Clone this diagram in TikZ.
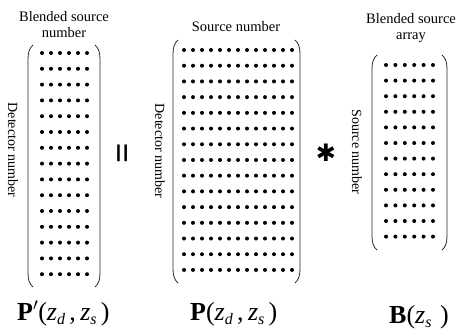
\documentclass[tikz,border=0pt]{standalone}
\usepackage{fontspec}
\setmainfont{Liberation Serif}
\newfontfamily\djv{DejaVu Sans}
\newcommand{\sbx}[1]{\raisebox{-0.4ex}{\fontsize{16}{16}\selectfont\textit{#1}}}
\begin{document}
\begin{tikzpicture}[x=1pt,y=-1pt,
  lbl/.style={font=\fontsize{14.5}{16}\selectfont, align=center, inner sep=0pt},
  vlbl/.style={font=\fontsize{14}{16}\selectfont, rotate=-90, inner sep=0pt},
  frm/.style={font=\fontsize{26}{30}\selectfont, inner sep=0pt, anchor=base west},
  paren/.style={line width=0.8pt, black!85},
  dotc/.style={fill=black}]
\useasboundingbox (0,0) rectangle (457,332);
% ---- Matrix 1
\draw[paren] (33,45) .. controls (29.5,48) and (28,52) .. (28,59) -- (28,273) .. controls (28,280) and (29.5,284) .. (33,287);
\draw[paren] (95,45) .. controls (98.5,48) and (100,52) .. (100,59) -- (100,273) .. controls (100,280) and (98.5,284) .. (95,287);
\foreach \r in {0,...,14}{\foreach \c in {0,...,5}{\fill[dotc] (42+9*\c,53+15.8*\r) circle (2);}}
% ---- Matrix 2
\draw[paren] (178,40) .. controls (174.5,43) and (173,47) .. (173,54) -- (173,269) .. controls (173,276) and (174.5,280) .. (178,283);
\draw[paren] (295,40) .. controls (298.5,43) and (300,47) .. (300,54) -- (300,269) .. controls (300,276) and (298.5,280) .. (295,283);
\foreach \r in {0,...,14}{\foreach \c in {0,...,12}{\fill[dotc] (184+9*\c,50+15.71*\r) circle (2);}}
% ---- Matrix 3
\draw[paren] (377,55) .. controls (373.5,58) and (372,62) .. (372,69) -- (372,236) .. controls (372,243) and (373.5,247) .. (377,250);
\draw[paren] (442,55) .. controls (445.5,58) and (447,62) .. (447,69) -- (447,236) .. controls (447,243) and (445.5,247) .. (442,250);
\foreach \r in {0,...,11}{\foreach \c in {0,...,5}{\fill[dotc] (386+9.4*\c,65+15.6*\r) circle (2);}}
% ---- labels
\node[lbl] (t1) at (64,25) {Blended source\\number};
\node[lbl] (t2) at (236,27) {Source number};
\node[lbl] (t3) at (411,28) {Blended source\\array};
\node[vlbl] (v1) at (13,150) {Detector number};
\node[vlbl] (v2) at (160,151) {Detector number};
\node[vlbl] (v3) at (357,152) {Source number};
% operators
\node[rotate=90, inner sep=0pt, font=\fontsize{36}{36}\selectfont\bfseries] (eqsign) at (126,153) {=};
\node[inner sep=0pt, font=\djv\fontsize{24}{24}\selectfont] (astsign) at (326,153) {✱};
% formulas
\node[frm] (f1) at (17,320) {{\bfseries P}$'$(\textit{z}\sbx{d}\,,\,\textit{z}\sbx{s}\,)};
\node[frm] (f2) at (190,320) {{\bfseries P}(\textit{z}\sbx{d}\,,\,\textit{z}\sbx{s}\,)};
\node[frm] (f3) at (389,323) {{\bfseries B}(\textit{z}\sbx{s}\,\,)};
\end{tikzpicture}
\end{document}
